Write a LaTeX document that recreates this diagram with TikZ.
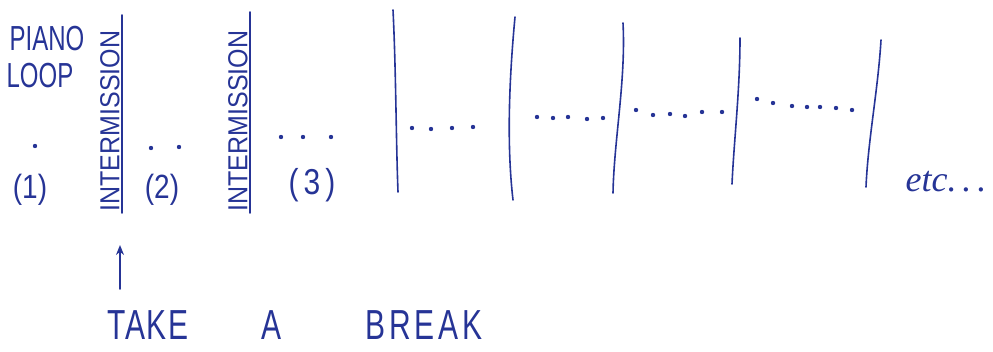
\documentclass[tikz,border=0pt]{standalone}
\usepackage{fontspec}
\setmainfont{Liberation Sans}
\newfontfamily\etcfont{Liberation Serif}
\usetikzlibrary{arrows.meta}
\definecolor{ink}{RGB}{38,52,150}
\tikzset{
  pen/.style={draw=ink, line width=1.6pt, line cap=round},
  lbl/.style={text=ink, inner sep=0pt, font=#1},
  inkdot/.style={fill=ink, circle, inner sep=0pt, minimum size=4.4pt},
}
\begin{document}
\begin{tikzpicture}[x=1pt,y=-1pt]
\useasboundingbox (0,0) rectangle (993,351);
% titles
\node[lbl={\fontsize{24}{24}\selectfont}] (piano) at (47,39) {\scalebox{1}[1.45]{PIANO}};
\node[lbl={\fontsize{24}{24}\selectfont}] (loop) at (40,76) {\scalebox{1}[1.45]{LOOP}};
% intermissions
\node[lbl={\fontsize{25}{25}\selectfont}, rotate=90] (int1) at (110,121) {\scalebox{1}[1.1]{INTERMISSION}};
\node[lbl={\fontsize{25}{25}\selectfont}, rotate=90] (int2) at (238,121) {\scalebox{1}[1.1]{INTERMISSION}};
% bar lines
\coordinate (l1t) at (122,15);  \coordinate (l1b) at (122,213);
\coordinate (l2t) at (250,12);  \coordinate (l2b) at (250,213);
\coordinate (l3t) at (393,10);  \coordinate (l3b) at (398,192);
\coordinate (l4t) at (515,17);  \coordinate (l4b) at (513,200);
\coordinate (l5t) at (623,23);  \coordinate (l5b) at (613,193);
\coordinate (l6t) at (740,38);  \coordinate (l6b) at (732,184);
\coordinate (l7t) at (881,40);  \coordinate (l7b) at (866,187);
\draw[pen] (l1t) -- (l1b);
\draw[pen] (l2t) -- (l2b);
\draw[pen] (l3t) .. controls (396,70) and (396,140) .. (l3b);
\draw[pen] (l4t) .. controls (510,70) and (506,140) .. (l4b);
\draw[pen] (l5t) .. controls (626,80) and (614,140) .. (l5b);
\draw[pen] (l6t) .. controls (740,90) and (734,140) .. (l6b);
\draw[pen] (l7t) .. controls (878,90) and (868,140) .. (l7b);
% dots
\node[inkdot] (d11) at (35,146) {};
\node[inkdot] (d21) at (151,148) {};
\node[inkdot] (d22) at (179,147) {};
\node[inkdot] (d31) at (281,137) {};
\node[inkdot] (d32) at (303,137) {};
\node[inkdot] (d33) at (331,137) {};
\node[inkdot] (d41) at (412,128) {};
\node[inkdot] (d42) at (431,129) {};
\node[inkdot] (d43) at (452,128) {};
\node[inkdot] (d44) at (473,127) {};
\node[inkdot] (d51) at (537,117) {};
\node[inkdot] (d52) at (553,118) {};
\node[inkdot] (d53) at (568,117) {};
\node[inkdot] (d54) at (587,119) {};
\node[inkdot] (d55) at (603,118) {};
\node[inkdot] (d61) at (636,110) {};
\node[inkdot] (d62) at (653,115) {};
\node[inkdot] (d63) at (670,114) {};
\node[inkdot] (d64) at (685,116) {};
\node[inkdot] (d65) at (702,112) {};
\node[inkdot] (d66) at (722,112) {};
\node[inkdot] (d71) at (757,99) {};
\node[inkdot] (d72) at (773,103) {};
\node[inkdot] (d73) at (792,106) {};
\node[inkdot] (d74) at (807,107) {};
\node[inkdot] (d75) at (820,107) {};
\node[inkdot] (d76) at (836,108) {};
\node[inkdot] (d77) at (852,110) {};
% numbers
\node[lbl={\fontsize{28}{28}\selectfont}] (n1) at (30,190) {\scalebox{1}[1.2]{(1)}};
\node[lbl={\fontsize{28}{28}\selectfont}] (n2) at (162,190) {\scalebox{1}[1.2]{(2)}};
\node[lbl={\fontsize{30}{30}\selectfont}] (n3) at (312,185) {\scalebox{1}[1.2]{(\,3\,)}};
\node[lbl={\etcfont\itshape\fontsize{36}{36}\selectfont}] (etc) at (946,182) {etc.\,.\,.};
% take a break
\node[lbl={\fontsize{30}{30}\selectfont\addfontfeature{LetterSpace=6}}] (take) at (148,325) {\scalebox{1}[1.4]{TAKE}};
\node[lbl={\fontsize{30}{30}\selectfont}] (a) at (272,325) {\scalebox{1}[1.4]{A}};
\node[lbl={\fontsize{30}{30}\selectfont\addfontfeature{LetterSpace=12}}] (break) at (424,325) {\scalebox{1}[1.4]{BREAK}};
\coordinate (arrtail) at (120,289);
\coordinate (arrhead) at (120,245);
\draw[pen, -{Stealth[length=10pt,width=8pt]}] (arrtail) -- (arrhead);
\end{tikzpicture}
\end{document}
